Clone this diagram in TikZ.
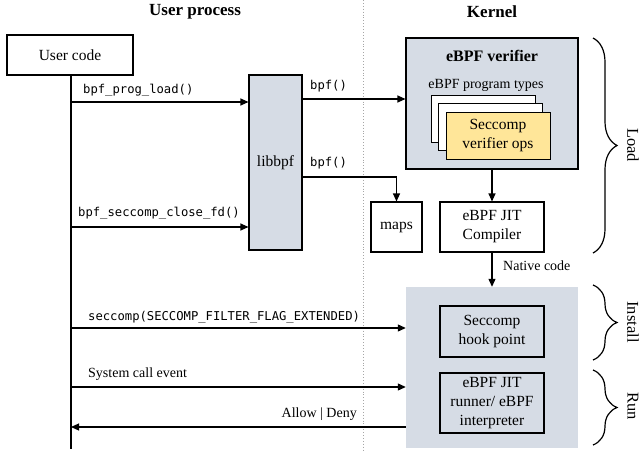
\documentclass[tikz,border=0pt]{standalone}
\usepackage{fontspec}
\setmainfont{Liberation Serif}
\setmonofont{DejaVu Sans Mono}
\usetikzlibrary{arrows.meta,decorations.pathreplacing}
\definecolor{kgray}{HTML}{D6DCE5}
\definecolor{kyellow}{HTML}{FFE699}
\tikzset{
  bx/.style={draw=black, line width=1.1pt, minimum width=#1, inner sep=0pt, align=center,
    font=\fontsize{15.5}{19}\selectfont},
  bx/.default=104pt,
  arr/.style={line width=1.1pt, -{Triangle[length=8pt,width=7pt]}},
  ln/.style={line width=1.1pt},
  mono/.style={font=\fontsize{12.2}{14}\selectfont\ttfamily, inner sep=0pt},
  lbl/.style={font=\fontsize{14}{16}\selectfont, inner sep=0pt},
  ttl/.style={font=\fontsize{17}{20}\selectfont\bfseries, inner sep=0pt},
  brc/.style={decorate, decoration={brace, amplitude=24pt}, line width=1.2pt},
  side/.style={font=\fontsize{16.5}{19}\selectfont, rotate=-90, inner sep=0pt},
}
\begin{document}
\begin{tikzpicture}[x=1pt, y=-1pt]
\useasboundingbox (0,0) rectangle (640,450);
% separator
\draw[gray!70, dotted, line width=0.9pt] (363,0) -- (363,450);
% titles
\node[ttl] (t1) at (195,12) {User process};
\node[ttl] (t2) at (492,12) {Kernel};
% user side
\node[bx=126pt, minimum height=40pt] (uc) at (70,55) {User code};
\coordinate (lend) at (71,449);
\draw[ln] (uc.south -| lend) -- (lend);
\node[bx=53pt, minimum height=175pt, fill=kgray] (lib) at (275.5,162.5) {libbpf};
% kernel
\node[bx=172pt, minimum height=131pt, fill=kgray] (ver) at (492,103.5) {};
\node[font=\fontsize{16}{19}\selectfont\bfseries, inner sep=0pt] (vt) at (492,56) {eBPF verifier};
\node[lbl] (pt) at (486,85) {eBPF program types};
\node[bx=104pt, minimum height=47pt, fill=white, line width=1pt] (c1) at (483,118.5) {};
\node[bx=104pt, minimum height=47pt, fill=white, line width=1pt] (c2) at (490,126.5) {};
\node[bx=104pt, minimum height=47pt, fill=kyellow, line width=1pt] (c3) at (498,135.5) {Seccomp\\verifier ops};
\node[bx=51pt, minimum height=50pt] (maps) at (396.5,227) {maps};
\node[bx=104pt, minimum height=50pt] (jit) at (492,227) {eBPF JIT\\Compiler};
\node[fill=kgray, minimum width=172pt, minimum height=161pt, inner sep=0pt] (rb) at (492,367.5) {};
\node[bx=104pt, minimum height=51pt] (hook) at (492,331.5) {Seccomp\\hook point};
\node[bx=104pt, minimum height=60pt] (run) at (492,403) {eBPF JIT\\runner/ eBPF\\interpreter};
% lifeline points
\coordinate (p1) at (71,102);
\coordinate (p2) at (71,227);
\coordinate (p3) at (71,328);
\coordinate (p4) at (71,387);
\coordinate (p5) at (71,427);
\draw[arr] (p1) -- (p1 -| lib.west);
\node[mono, anchor=west] (l1) at (83,90) {bpf\_prog\_load()};
\draw[arr] (p2) -- (p2 -| lib.west);
\node[mono, anchor=west] (l2) at (78,213) {bpf\_seccomp\_close\_fd()};
\coordinate (b1) at (302,99);
\draw[arr] (b1) -- (b1 -| ver.west);
\node[mono, anchor=west] (l3) at (310,86) {bpf()};
\coordinate (b2) at (302,177);
\draw[arr] (b2) -| (maps.north);
\node[mono, anchor=west] (l4) at (310,163) {bpf()};
\draw[arr] (ver.south) -- (jit.north);
\draw[arr] (jit.south) -- (jit.south |- rb.north);
\node[lbl, anchor=west] (nc) at (503,266) {Native code};
\draw[arr] (p3) -- (p3 -| rb.west);
\node[mono, anchor=west] (l5) at (88,317) {seccomp(SECCOMP\_FILTER\_FLAG\_EXTENDED)};
\draw[arr] (p4) -- (p4 -| rb.west);
\node[lbl, anchor=west] (l6) at (88,374) {System call event};
\draw[arr] (p5 -| rb.west) -- (p5);
\node[lbl, anchor=east] (l7) at (357,414) {Allow | Deny};
% braces
\draw[brc] (593,38) -- (593,253);
\node[side] (s1) at (633,145) {Load};
\draw[brc] (593,285) -- (593,360);
\node[side] (s2) at (633,322) {Install};
\draw[brc] (593,370) -- (593,445);
\node[side] (s3) at (633,406) {Run};
\end{tikzpicture}
\end{document}
